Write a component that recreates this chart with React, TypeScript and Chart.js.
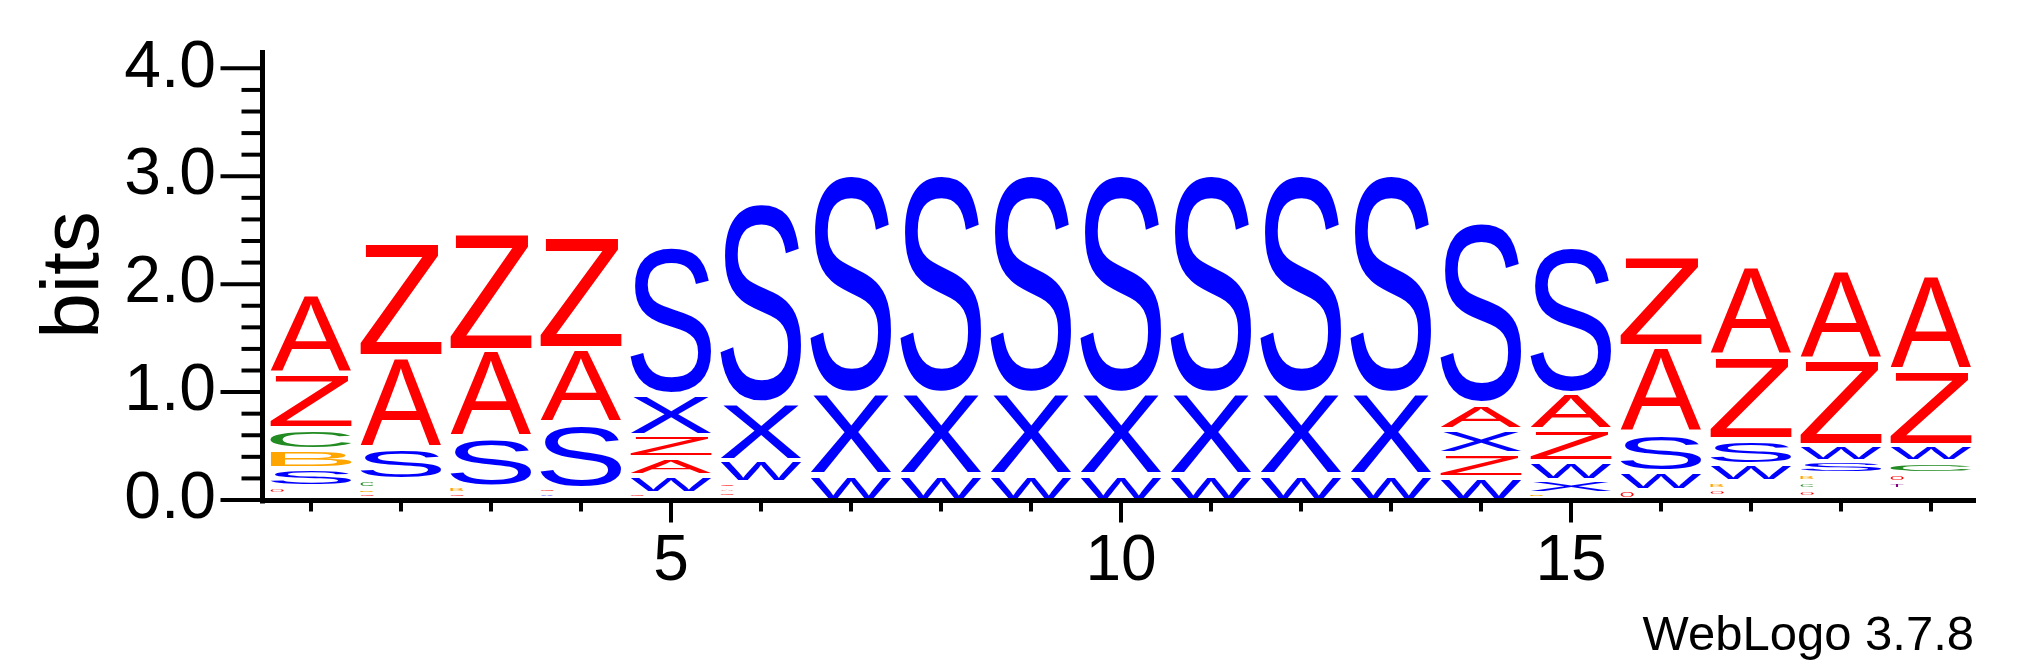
import React, { useEffect, useRef } from 'react';
import { Chart, registerables } from 'chart.js';

Chart.register(...registerables);

// ---- data ----
const positions = ['1', '2', '3', '4', '5', '6', '7', '8', '9', '10', '11', '12', '13', '14', '15', '16', '17', '18', '19'];

const bitsA = [0.74, 0.845, 0.808, 0.694, 0.167, 0.045, 0, 0, 0, 0, 0, 0, 0, 0.232, 0.339, 0.799, 0.829, 0.831, 0.879];
const bitsZ = [0.51, 1.058, 1.089, 1.043, 0.209, 0.046, 0, 0, 0, 0, 0, 0, 0, 0.222, 0.294, 0.842, 0.771, 0.791, 0.703];
const bitsS = [0.165, 0.293, 0.466, 0.604, 1.382, 1.872, 2.046, 2.046, 2.046, 2.046, 2.046, 2.046, 2.046, 1.7, 1.373, 0.358, 0.234, 0.113, 0];
const bitsX = [0, 0, 0, 0.035, 0.379, 0.533, 0.753, 0.753, 0.753, 0.753, 0.753, 0.753, 0.753, 0.226, 0.124, 0, 0, 0, 0];
const bitsW = [0, 0, 0, 0, 0.164, 0.206, 0.236, 0.236, 0.236, 0.236, 0.236, 0.236, 0.236, 0.207, 0.17, 0.171, 0.16, 0.147, 0.147];
const bitsC = [0.195, 0.085, 0, 0, 0, 0, 0, 0, 0, 0, 0, 0, 0, 0, 0, 0, 0, 0.072, 0.111];
const bitsB = [0.173, 0.045, 0.05, 0, 0, 0, 0, 0, 0, 0, 0, 0, 0, 0, 0.036, 0, 0.07, 0.074, 0];
const bitsT = [0, 0, 0, 0, 0, 0, 0, 0, 0, 0, 0, 0, 0, 0, 0, 0, 0, 0, 0.071];
const bitsO = [0.07, 0.035, 0.04, 0.0425, 0.036, 0.04, 0, 0, 0, 0, 0, 0, 0, 0, 0, 0.09, 0.067, 0.07, 0.077];
// residues too small to render as glyphs (kept at the bottom of each stack)
const bitsOther = [0.055, 0.025, 0.025, 0.03, 0.025, 0.03, 0, 0, 0, 0, 0, 0, 0, 0, 0.025, 0, 0.03, 0.025, 0.095];

const yTickValues = [0, 1, 2, 3, 4];
const yMinorPerMajor = 5;
const majorXTicks = [5, 10, 15];
const yTitle = 'bits';
const footerText = 'WebLogo 3.7.8';

const letterColors: Record<string, string> = {
  A: '#ff0000',
  Z: '#ff0000',
  O: '#ff0000',
  S: '#0000ff',
  X: '#0000ff',
  W: '#0000ff',
  C: '#228b22',
  B: '#ffa500',
  T: '#800080',
};

const residueSeries: [string, number[]][] = [
  ['A', bitsA],
  ['Z', bitsZ],
  ['S', bitsS],
  ['X', bitsX],
  ['W', bitsW],
  ['C', bitsC],
  ['B', bitsB],
  ['T', bitsT],
  ['O', bitsO],
  ['', bitsOther],
];

const FONT = '"Liberation Sans", Arial, Helvetica, sans-serif';

// build stacks: smallest at bottom, unrenderable remainder first
const stacks = positions.map((_, i) => {
  const entries = residueSeries
    .filter(([, arr]) => arr[i] > 0)
    .map(([letter, arr]) => ({ letter, bits: arr[i] }));
  const other = entries.filter((e) => e.letter === '');
  const rest = entries.filter((e) => e.letter !== '').sort((a, b) => a.bits - b.bits);
  return [...other, ...rest];
});
const depth = Math.max(...stacks.map((s) => s.length));

function drawGlyph(ctx: CanvasRenderingContext2D, letter: string, color: string, x0: number, y0: number, w: number, h: number) {
  if (w <= 0 || h <= 0.3) return;
  ctx.save();
  ctx.font = `200px ${FONT}`;
  ctx.textAlign = 'left';
  ctx.textBaseline = 'alphabetic';
  const m = ctx.measureText(letter);
  const gl = -m.actualBoundingBoxLeft;
  const gr = m.actualBoundingBoxRight;
  const gt = -m.actualBoundingBoxAscent;
  const gb = m.actualBoundingBoxDescent;
  const sx = w / (gr - gl);
  const sy = h / (gb - gt);
  ctx.translate(x0, y0);
  ctx.scale(sx, sy);
  ctx.fillStyle = color;
  ctx.fillText(letter, -gl, -gt);
  ctx.restore();
}

const logoPlugin = {
  id: 'logoGlyphs',
  afterDatasetsDraw(chart: any) {
    const ctx: CanvasRenderingContext2D = chart.ctx;
    chart.data.datasets.forEach((ds: any, di: number) => {
      const meta = chart.getDatasetMeta(di);
      meta.data.forEach((el: any, i: number) => {
        const letter = ds.letters[i];
        if (!letter) return;
        const { x, y, base, width } = el.getProps(['x', 'y', 'base', 'width'], true);
        const slot = base - y;
        if (slot <= 0) return;
        const inset = Math.min(2.5, slot * 0.325);
        const h = slot - 2 * inset;
        const top = y + inset;
        const left = x - width / 2;
        const w = slot < 10 ? 13 : width;
        drawGlyph(ctx, letter, letterColors[letter], left, top, w, h);
      });
    });
  },
};

const axesPlugin = {
  id: 'logoAxes',
  afterDraw(chart: any) {
    const { ctx, chartArea, scales } = chart;
    const xs = scales.x;
    const ys = scales.y;
    ctx.save();
    ctx.strokeStyle = '#000';
    ctx.lineCap = 'butt';
    const seg = (x1: number, y1: number, x2: number, y2: number) => {
      ctx.beginPath();
      ctx.moveTo(x1, y1);
      ctx.lineTo(x2, y2);
      ctx.stroke();
    };
    const ax = chartArea.left - 3.5;
    const ay = ys.getPixelForValue(0) + 0.5;
    ctx.lineWidth = 5;
    seg(ax, ys.getPixelForValue(ys.max), ax, ay + 3);
    seg(ax - 2.5, ay, chartArea.right, ay);
    ctx.lineWidth = 4;
    const last = yTickValues[yTickValues.length - 1];
    const nMinor = last * yMinorPerMajor;
    for (let k = 0; k <= nMinor; k++) {
      const v = k / yMinorPerMajor;
      const py = ys.getPixelForValue(v);
      const major = k % yMinorPerMajor === 0;
      seg(major ? ax - 42 : ax - 21, py, ax, py);
    }
    positions.forEach((p, i) => {
      const px = xs.getPixelForValue(i);
      const major = majorXTicks.includes(Number(p));
      seg(px, ay, px, ay + (major ? 22 : 11));
    });
    ctx.fillStyle = '#000';
    ctx.font = `49px ${FONT}`;
    ctx.textAlign = 'right';
    ctx.textBaseline = 'alphabetic';
    ctx.fillText(footerText, 1974, 650);
    ctx.restore();
  },
};

export default function App() {
  const ref = useRef<HTMLCanvasElement | null>(null);
  useEffect(() => {
    if (!ref.current) return;
    const datasets = Array.from({ length: depth }, (_, r) => ({
      label: 'rank' + r,
      data: stacks.map((s) => (s[r] ? s[r].bits : 0)),
      letters: stacks.map((s) => (s[r] ? s[r].letter : '')),
      backgroundColor: 'rgba(0,0,0,0)',
      borderWidth: 0,
      categoryPercentage: 1,
      barPercentage: 0.9,
      stack: 'logo',
    }));
    const chart = new Chart(ref.current, {
      type: 'bar',
      data: { labels: positions, datasets: datasets as any },
      options: {
        animation: false,
        responsive: false,
        devicePixelRatio: 1,
        layout: { padding: { left: 0, right: 49, top: 50, bottom: 0 } },
        plugins: { legend: { display: false }, tooltip: { enabled: false } },
        scales: {
          x: {
            type: 'category',
            stacked: true,
            offset: true,
            grid: { display: false, drawTicks: false },
            border: { display: false },
            ticks: {
              autoSkip: false,
              maxRotation: 0,
              minRotation: 0,
              color: '#000',
              font: { family: FONT, size: 64 },
              padding: 24,
              callback: (_v: any, idx: number) => (majorXTicks.includes(Number(positions[idx])) ? positions[idx] : ''),
            },
            afterFit: (s: any) => {
              s.height = 167;
              s.paddingLeft = 0;
              s.paddingRight = 0;
            },
          },
          y: {
            type: 'linear',
            stacked: true,
            min: 0,
            max: 4.17,
            grid: { display: false, drawTicks: false },
            border: { display: false },
            afterBuildTicks: (s: any) => {
              s.ticks = yTickValues.map((v) => ({ value: v }));
            },
            ticks: {
              color: '#000',
              font: { family: FONT, size: 66 },
              padding: 50,
              callback: (v: any) => Number(v).toFixed(1),
            },
            title: {
              display: true,
              text: yTitle,
              color: '#000',
              font: { family: FONT, size: 82 },
              padding: { top: 26, bottom: 0 },
            },
            afterFit: (s: any) => {
              s.width = 266;
              s.paddingTop = 0;
              s.paddingBottom = 0;
            },
          },
        },
      },
      plugins: [logoPlugin, axesPlugin],
    });
    return () => chart.destroy();
  }, []);
  return (
    <div style={{ position: 'fixed', left: 0, top: 0, width: 2025, height: 667, background: '#fff' }}>
      <canvas ref={ref} width={2025} height={667} style={{ display: 'block', width: 2025, height: 667 }} />
    </div>
  );
}
